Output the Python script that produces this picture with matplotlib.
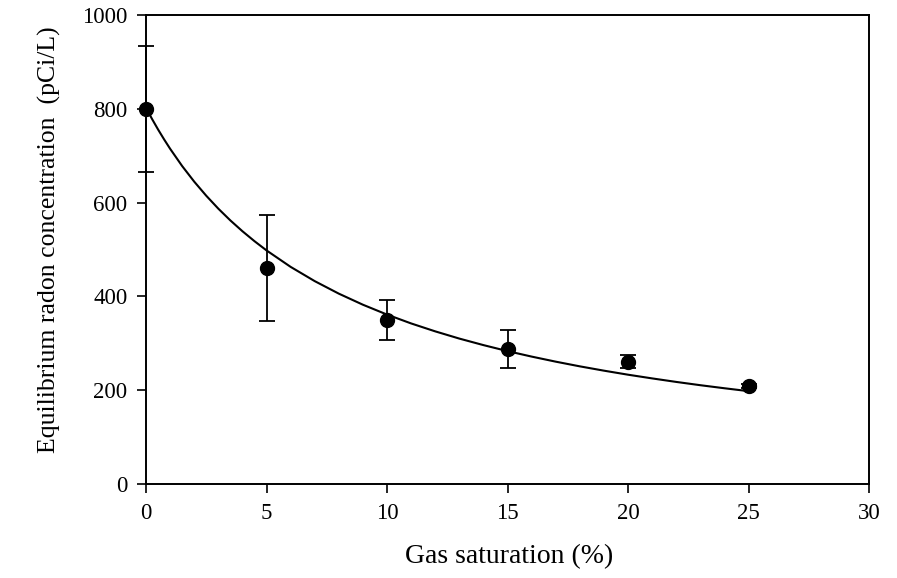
import matplotlib
matplotlib.use("Agg")
import matplotlib.pyplot as plt

plt.rcParams['font.family'] = ['Liberation Serif', 'DejaVu Serif']

# measured data
gas_sat = [0, 5, 10, 15, 20, 25]
radon = [800, 460, 350, 288, 261, 209]
radon_err = [134, 113, 42, 40, 14, 5]

# fitted curve values
curve_x = [0, 0.25, 0.5, 0.75, 1, 1.5, 2, 2.5, 3, 3.5, 4, 4.5, 5, 6, 7, 8, 9,
           10, 11, 12, 13, 14, 15, 16, 17, 18, 19, 20, 21, 22, 23, 24, 25]
curve_y = [802, 778.3, 755.9, 734.8, 714.8, 677.9, 644.7, 614.6, 587.1, 562.0,
           539.0, 517.8, 498.1, 463.0, 432.6, 405.9, 382.3, 361.3, 342.4, 325.5,
           310.1, 296.2, 283.4, 271.7, 260.9, 250.9, 241.7, 233.1, 225.2, 217.7,
           210.7, 204.2, 198.0]

x_ticks = [0, 5, 10, 15, 20, 25, 30]
y_ticks = [0, 200, 400, 600, 800, 1000]

fig = plt.figure(figsize=(8.97, 5.78), dpi=100)
ax = fig.add_axes([0.1628, 0.1626, 0.806, 0.8114])

ax.plot(curve_x, curve_y, color='black', lw=1.5, zorder=2)
ax.errorbar(gas_sat, radon, yerr=radon_err, fmt='o', color='black',
            markersize=10, capsize=6, elinewidth=1.3, capthick=1.3, zorder=3,
            clip_on=False)

ax.set_xlim(0, 30)
ax.set_ylim(0, 1000)
ax.set_xticks(x_ticks)
ax.set_yticks(y_ticks)
ax.tick_params(direction='out', length=6.5, width=1.2, labelsize=16.5, pad=7,
               colors='black')
for s in ax.spines.values():
    s.set_linewidth(1.4)

ax.set_xlabel('Gas saturation (%)', fontsize=20)
ax.set_ylabel('Equilibrium radon concentration  (pCi/L)', fontsize=18.5)
ax.xaxis.set_label_coords(0.502, -0.128)
ax.yaxis.set_label_coords(-0.117, 0.52)

fig.savefig('out.png', dpi=100)
